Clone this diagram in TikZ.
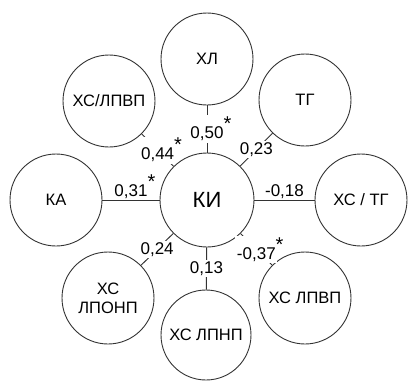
\documentclass[tikz,border=0pt]{standalone}
\usepackage{fontspec}
\setmainfont{Liberation Sans}
\usepackage{tikz}
\usetikzlibrary{positioning}
\colorlet{linegray}{black!80}
\newcommand{\sig}{\rlap{\raisebox{0.9ex}{\fontsize{20}{20}\selectfont*}}}

\begin{document}
\begin{tikzpicture}[x=1pt, y=-1pt, line width=0.9pt,
    bub/.style={draw=linegray, circle, minimum size=92pt, inner sep=0pt, align=center, font=\fontsize{16.5}{19}\selectfont},
    lbl/.style={fill=white, inner sep=1.5pt, font=\fontsize{17}{19}\selectfont},
    toplbl/.style={above, inner sep=1pt, font=\fontsize{17}{19}\selectfont},
    link/.style={draw=linegray}]
    \useasboundingbox (0,0) rectangle (408,381);
    \node[bub, minimum size=94pt, font=\fontsize{22}{24}\selectfont] (ki) at (207,200) {КИ};
    \node[bub] (hl) at (207,59) {ХЛ};
    \node[bub] (tg) at (305,100) {ТГ};
    \node[bub] (hstg) at (361,200) {ХС / ТГ};
    \node[bub] (hslpvp) at (305,298) {ХС ЛПВП};
    \node[bub, minimum size=90pt] (hslpnp) at (206,335) {ХС ЛПНП};
    \node[bub] (hslponp) at (108,298) {ХС\\ЛПОНП};
    \node[bub] (ka) at (56,200) {КА};
    \node[bub] (hsvp) at (109,101) {ХС/ЛПВП};
    % correlations
    \draw[link] (hl) -- node[lbl] {0,50\sig} (ki);
    \draw[link] (hsvp) -- node[lbl] {0,44\sig} (ki);
    \draw[link] (tg) -- node[lbl] {0,23} (ki);
    \draw[link] (ka) -- node[toplbl] {0,31\sig} (ki);
    \draw[link] (ki) -- node[toplbl] {-0,18} (hstg);
    \draw[link] (hslponp) -- node[lbl] {0,24} (ki);
    \draw[link] (ki) -- node[lbl] {0,13} (hslpnp);
    \draw[link] (ki) -- node[lbl] {-0,37\sig} (hslpvp);
\end{tikzpicture}
\end{document}
